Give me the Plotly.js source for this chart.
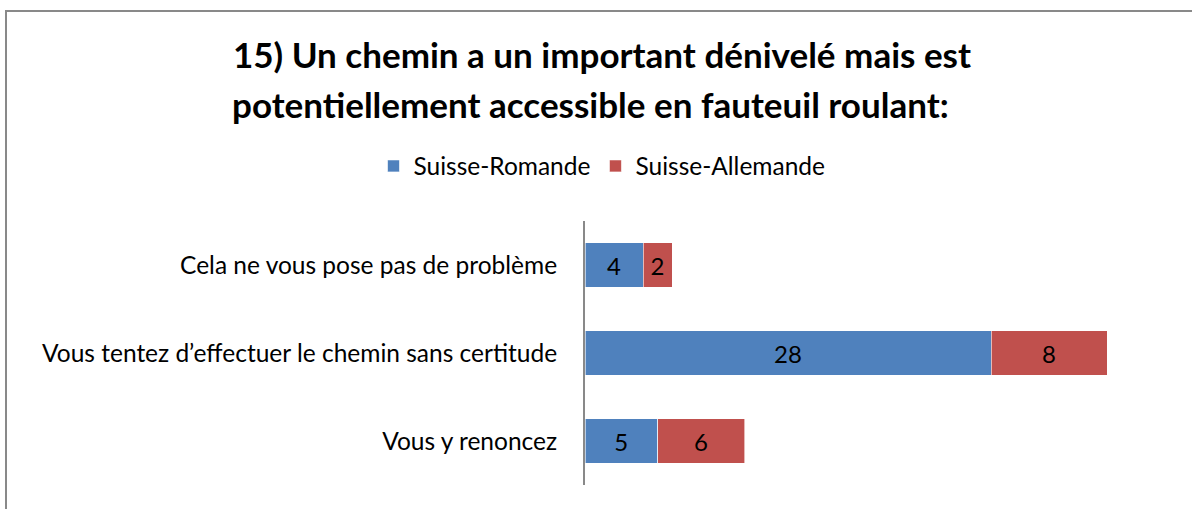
<!DOCTYPE html>
<html>
<head>
<meta charset="utf-8">
<script src="https://cdn.plot.ly/plotly-3.0.1.min.js"></script>
<style>
  html, body { margin: 0; padding: 0; background: #ffffff; }
  #wrap { position: relative; width: 1192px; height: 509px; overflow: hidden; }
  #chart { position: absolute; left: 0; top: 0; width: 1192px; height: 509px; }
  #frame { position: absolute; left: 5px; top: 10px; width: 1300px; height: 600px;
           border-left: 2px solid #898989; border-top: 2px solid #898989; pointer-events: none; }
</style>
</head>
<body>
<div id="wrap">
  <div id="chart"></div>
  <div id="frame"></div>
</div>
<script>
const categories = [
  "Cela ne vous pose pas de problème",
  "Vous tentez d’effectuer le chemin sans certitude",
  "Vous y renoncez"
];
const seriesNames = ["Suisse-Romande", "Suisse-Allemande"];
const romande = [4, 28, 5];
const allemande = [2, 8, 6];
const titleLine1 = "15) Un chemin a un important dénivelé mais est";
const titleLine2 = "potentiellement accessible en fauteuil roulant:";

const FONT = "Lato, 'Open Sans', sans-serif";

const traces = [
  {
    type: "bar", orientation: "h", name: seriesNames[0],
    y: categories, x: romande,
    marker: { color: "#4F81BD", line: { color: "rgba(255,255,255,0.6)", width: 1 } },
    text: romande.map(String), textposition: "inside", insidetextanchor: "middle",
    textangle: 0, textfont: { family: FONT, size: 24, color: "#000000" },
    hoverinfo: "x+y+name"
  },
  {
    type: "bar", orientation: "h", name: seriesNames[1],
    y: categories, x: allemande,
    marker: { color: "#C0504D", line: { color: "rgba(255,255,255,0.6)", width: 1 } },
    text: allemande.map(String), textposition: "inside", insidetextanchor: "middle",
    textangle: 0, textfont: { family: FONT, size: 24, color: "#000000" },
    hoverinfo: "x+y+name"
  }
];

const layout = {
  width: 1192, height: 509,
  margin: { l: 585, r: 27, t: 221, b: 24, pad: 0 },
  paper_bgcolor: "#ffffff", plot_bgcolor: "#ffffff",
  barmode: "stack", bargap: 0.49,
  font: { family: FONT, size: 24, color: "#000000" },
  title: {
    text: "<b>" + titleLine1 + "</b>",
    font: { family: FONT, size: 35, color: "#000000" },
    xref: "container", x: 602 / 1192, xanchor: "center",
    yref: "container", y: 1 - 56 / 509, yanchor: "middle"
  },
  annotations: [{
    text: "<b>" + titleLine2 + "</b>",
    xref: "paper", yref: "paper",
    x: (590 - 585) / 580, xanchor: "center",
    y: 1 + (221 - 104) / 264, yanchor: "middle",
    showarrow: false,
    font: { family: FONT, size: 35, color: "#000000" }
  }],
  showlegend: true,
  legend: {
    orientation: "h",
    xref: "container", x: 602 / 1192, xanchor: "center",
    yref: "container", y: 1 - 166 / 509, yanchor: "middle",
    font: { family: FONT, size: 24.5, color: "#000000" },
    itemwidth: 30, traceorder: "normal"
  },
  xaxis: {
    range: [0, 40], showgrid: false, zeroline: false, showline: false,
    showticklabels: false, ticks: ""
  },
  yaxis: {
    type: "category", categoryorder: "array", categoryarray: categories,
    autorange: "reversed",
    showline: true, linecolor: "#898989", linewidth: 2,
    showgrid: false, zeroline: false, ticks: "",
    ticklabelstandoff: 21,
    tickfont: { family: FONT, size: 24.5, color: "#000000" }
  }
};

Plotly.newPlot("chart", traces, layout, { displayModeBar: false, staticPlot: true });
</script>
</body>
</html>
